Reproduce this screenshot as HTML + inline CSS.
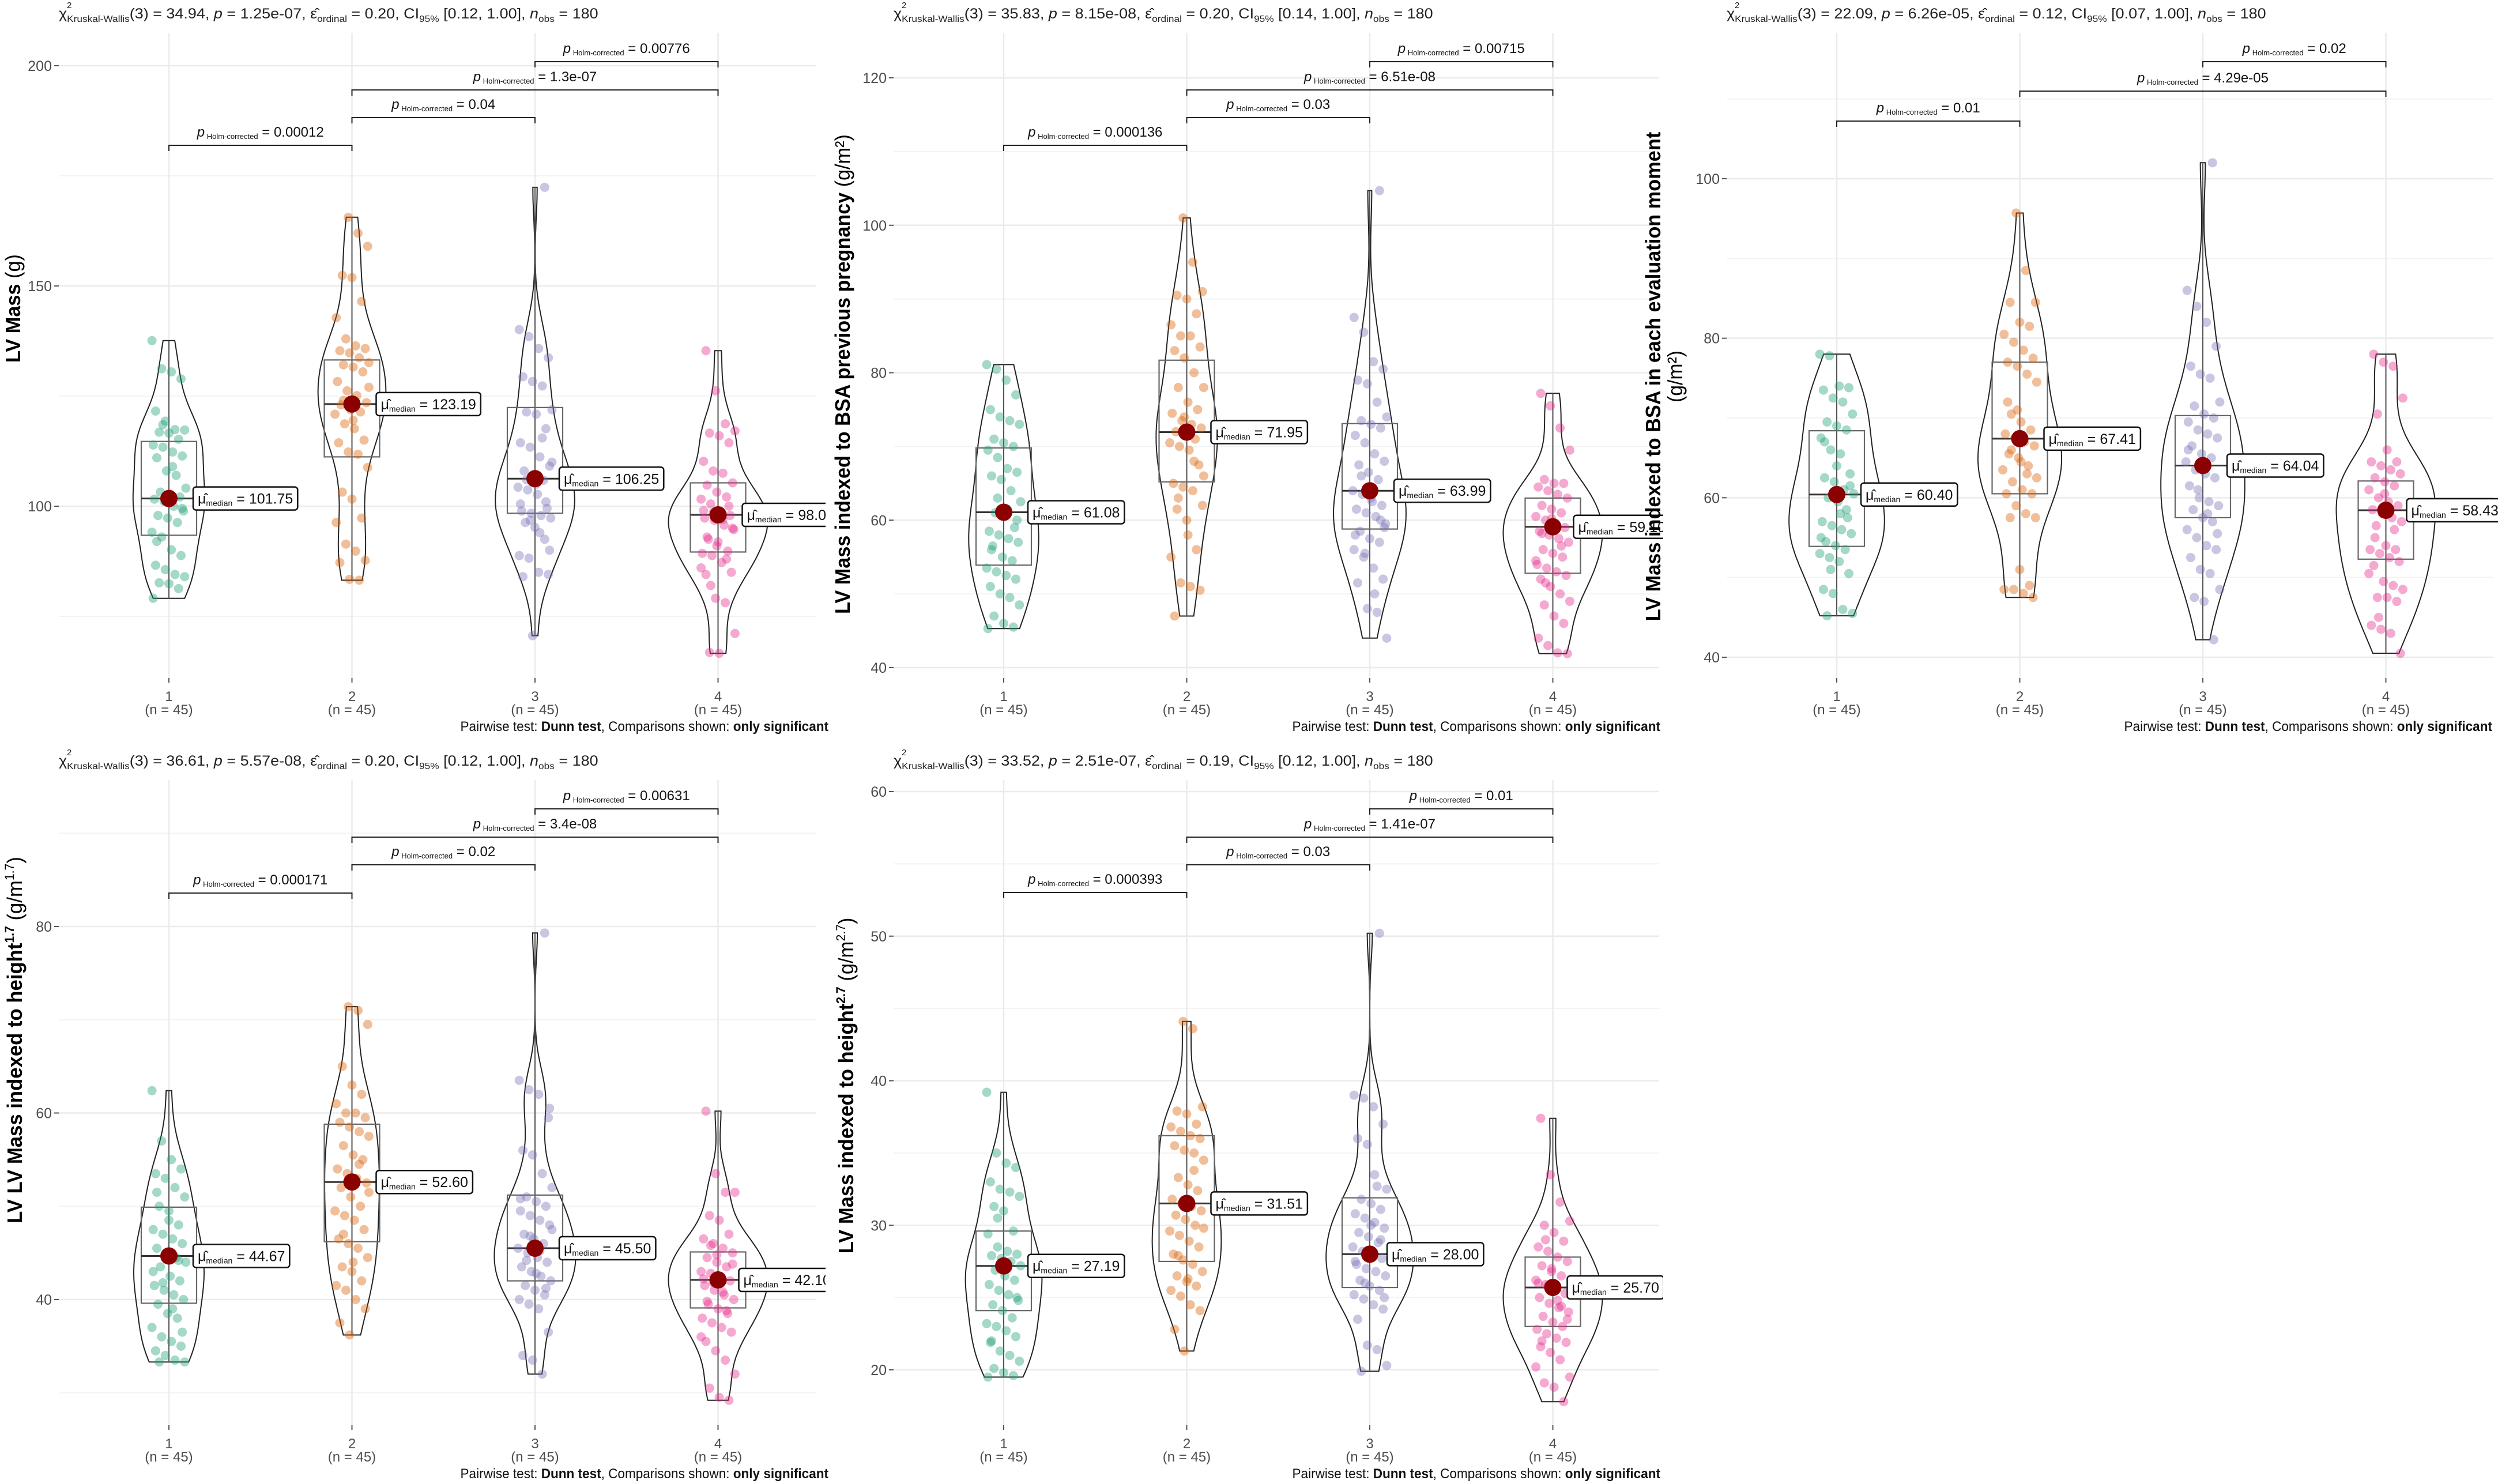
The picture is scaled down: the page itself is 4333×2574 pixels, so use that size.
<!DOCTYPE html>
<html><head><meta charset="utf-8">
<style>
html,body{margin:0;padding:0;background:#fff;}
svg{display:block;font-family:"Liberation Sans",sans-serif;}
</style></head>
<body>
<svg id="fig" width="4333" height="2574" viewBox="0 0 4333 2574" xmlns="http://www.w3.org/2000/svg">
<rect x="0" y="0" width="4333" height="2574" fill="#fff"/>
</svg>
<script>
// ---------- DATA ----------
const groupLabels = ["1","2","3","4"];
const groupN = [45,45,45,45];
const groupColors = ["#1B9E77","#D95F02","#7570B3","#E7298A"];

// Panel 1: LV Mass (g)
const p1Points = [
 [137.6,131.2,130.5,128.9,121.6,119.3,117.4,117.3,116.8,116.6,115.2,113.9,113.4,112.3,111.4,111.0,108.0,107.0,104.1,103.2,102.7,102.1,101.6,101.1,100,98.9,97.9,97.3,96.3,94.1,93.0,90.1,88.8,86.6,85.6,84.5,84.0,82.6,82.4,81.3,79.1,118.5,109,99.5,92],
 [165.6,162.0,159.0,152.4,151.9,146.5,142.8,138.0,136.4,135.8,135.3,134.8,133.7,132.6,132.1,131.6,130.5,128.3,126.2,125.1,123.5,123.0,121.9,121.4,120.9,118.7,117.6,115.0,114.4,112.3,111.8,108.8,103.2,101.6,97.3,96.3,91.4,89.8,87.7,87.2,83.4,83.2,127,124,119.5],
 [172.4,140.1,138.5,135.8,133.7,129.4,128.3,127.3,121.9,121.4,120.9,117.6,114.4,113.4,111.2,109.1,108.0,107.0,105.9,104.3,103.7,102.7,99.5,98.9,98.4,97.9,97.3,96.3,95.2,92.5,88.8,88.2,85.0,84.5,84.0,70.6,115.5,110,106,105,101,100.5,96.8,94,90],
 [135.3,126.2,118.7,117.1,116.6,116.0,114.4,110.2,108.0,107.5,105.3,104.8,103.2,102.1,101.6,100.5,98.9,97.9,97.3,96.8,95.7,94.7,92.5,91.9,89.8,89.3,88.8,87.2,85.0,84.5,79.1,78.1,71.1,66.8,66.6,100,99,98.5,97,95,93,91,88,86,82]
];
const p1Median = [101.75,123.19,106.25,98.03];
const p1Q1 = [93.4,111.2,98.4,89.6];
const p1Q3 = [114.7,133.2,122.4,105.3];
const p1Ticks = [100,150,200];
const p1Minor = [75,125,175];
const p1PLabels = ["0.00776","1.3e-07","0.04","0.00012"];
const p1Stats = ["34.94","1.25e-07","0.20","[0.12, 1.00]","180"];

// Panel 2: LV Mass indexed to BSA previous pregnancy
const p2Points = [
 [81.1,80.5,79,77,75,74,73.5,73,71,70.5,70,69.5,68.5,67,66.5,66,65.5,64,62.5,61,60.5,59,58.5,58,57.5,57,56.5,55,54.5,53.5,53,52.5,52,51,50,49.5,48.5,47,46,45.5,45.3,63,61.5,60,56],
 [101,95,91,90.5,90,88,86.5,85,85,83.5,83,82,80,78,78,76,75,74.5,73.5,73,72.5,72,71.5,71,70.5,70,69.5,67.5,65,64.5,64,62,61.5,60,56,55,51.5,51,50.5,47,74,68,66,63,58],
 [104.7,87.5,85.5,81.5,80.5,79,78.5,76,74,73.5,73,72.5,71.5,70.5,69,68,67.5,66.5,65.5,64,63.5,62.5,62,61.5,61,60.5,59.5,58.5,57.5,57,56,55,53.5,52,51.5,48,47.5,44,66,63,60,58,55.5,50,59],
 [77.2,75.5,72.5,69.5,65.5,65,65,64.5,64,63.5,63,62,61.5,61,60.5,60,59.5,59,58.5,58,57.5,57,56,55.5,55,54,53.5,53,52.5,52,51,50,49,48.5,47,46,44,43,42,41.9,58.2,60.2,56.5,54.5,51.5]
];
const p2Median = [61.08,71.95,63.99,59.10];
const p2Q1 = [53.9,65.2,58.8,52.8];
const p2Q3 = [69.8,81.7,73.1,63.0];
const p2Ticks = [40,60,80,100,120];
const p2Minor = [50,70,90,110];
const p2PLabels = ["0.00715","6.51e-08","0.03","0.000136"];
const p2Stats = ["35.83","8.15e-08","0.20","[0.14, 1.00]","180"];

// Panel 3: LV Mass indexed to BSA in each evaluation moment
const p3Points = [
 [78,77.8,74,73.8,73.5,72.5,72,70.5,69.5,69,68.5,67.5,66,65.5,63,62.5,62,61,60.5,60,59.5,57.5,57,56.5,56,55.5,54.5,54,53.5,53,52.5,52,50.5,48.5,48,46,45.5,45.2,64,58.5,55,51,58,61.5,67],
 [95.7,88.5,84.5,84.5,82,81.5,80.5,79.5,78.5,77.5,77,76.5,75.5,74.5,70.5,69.5,68.5,68,67.5,67,66.5,65.5,65,64,63.5,62,61,60.5,60.5,59,58,57.5,57.5,51,49,48.5,48.5,48,47.5,72,71,63,62.5,66,64.5],
 [102,86,84,82,79,76.5,75.5,75,72,71.5,70.5,70,69.5,68.5,68,67.5,66.5,65.5,65,64.5,63.5,63,62.5,61.5,60,59.5,59,58.5,57.5,57,56,55,54,53.5,52.5,51,50.5,48.5,47.5,47,42.2,66,61,58,55.5],
 [78,77,76.5,72.5,70.5,66,64.5,64.5,64,63.5,63,62.5,62,61.5,61,60,59.5,59,58.5,58,57.5,57,56.5,54,53.5,53.5,53,52.5,52,51.5,49.5,49,48.5,47.5,47.5,47,44,43.5,43,40.5,55,60.5,56,50.5,45]
];
const p3Median = [60.40,67.41,64.04,58.43];
const p3Q1 = [53.9,60.5,57.5,52.3];
const p3Q3 = [68.4,77.0,70.3,62.1];
const p3Ticks = [40,60,80,100];
const p3Minor = [50,70,90,110];
const p3PLabels = ["0.02","4.29e-05","0.01"];
const p3Stats = ["22.09","6.26e-05","0.12","[0.07, 1.00]","180"];

// Panel 4: LV LV Mass indexed to height^1.7
const p4Points = [
 [62.4,57,55,54,53.5,53,52,51,50,49.5,48,47.5,47,46.5,46,45.5,45,44.5,44,43.5,42.5,42,41.5,41,40.5,40,39.5,38.5,38,37,36,35.5,35,34.5,34,33.5,33.3,33.3,48.5,44.2,43,41.8,39,36.5,51.5],
 [71.4,71,69.5,65,63,62,61,60,60,59.5,59,58.5,58,57.5,56.5,55.5,55,54,53.5,53,52.5,52,51,50,49.5,49,48.5,47.5,46.5,46,45.5,44.5,43.5,43,42,41.5,41,40,39,37.5,36.2,54.5,51.5,47,44],
 [79.3,63.5,62.5,62,59.5,56,55.5,53.5,52,51,50.5,50,49.5,49,48.5,48,47,46.5,46,45.5,45,44.5,44,43.5,43,42.5,42,41.5,41,40.5,40,39.5,39,36.5,34,33.5,32,47.5,44.2,42.8,41.2,50.8,46.8,45.2,60.5],
 [60.2,53.5,51.5,51.5,49,48.5,47,46.5,46,45.5,45,44.5,44,43.5,43,42.8,42.5,42,41.5,41,40.5,40,39.5,39,38.5,38,37.5,37,36.5,35.5,34.5,33.5,32,30.5,29.5,29.2,42.2,41.8,40.8,43.8,39.8,44.8,38.8,36,45.8]
];
const p4Median = [44.67,52.60,45.50,42.10];
const p4Q1 = [39.6,46.2,42.0,39.1];
const p4Q3 = [49.9,58.8,51.2,45.1];
const p4Ticks = [40,60,80];
const p4Minor = [30,50,70,90];
const p4PLabels = ["0.00631","3.4e-08","0.02","0.000171"];
const p4Stats = ["36.61","5.57e-08","0.20","[0.12, 1.00]","180"];

// Panel 5: LV Mass indexed to height^2.7
const p5Points = [
 [39.2,35,34.3,34,33,32.5,32.3,32,31.3,31,29.6,29.4,28.5,28.2,28,27.9,27.7,27.5,27.2,26.9,26.5,26.2,25.9,25.5,25.2,24.8,24.5,24.1,23.6,23.2,23,22.7,22.3,21.9,21.3,21,20.6,20.1,19.8,19.6,19.5,30.5,27,25,22],
 [44.1,43.6,38.2,37.9,37.7,37,36.8,36.5,36.2,36,35.5,35.2,35,34.5,33.3,32.8,32.4,31.8,31.5,31.3,31,30.7,30.4,30,29.6,29.3,28.9,28.5,28,27.6,27.3,26.8,26.5,26.1,25.8,25.5,25.1,24.5,24.1,22.8,21.3,33.8,29.8,27.9,26.3],
 [50.2,39,38.8,38.2,37,36,35.6,32.7,32.5,31.8,31.5,31.1,30.8,30.5,30.2,29.8,29.5,29.2,28.8,28.5,28.2,28.0,27.7,27.3,27,26.8,26.5,26.2,25.8,25.5,25.2,24.9,24.5,24.2,23.5,21.7,21.4,20.3,19.9,30,29,27.5,26,33.5,25],
 [37.4,33.5,31.6,30.3,30,29.5,28.9,28.5,28.2,27.8,27.5,27.2,26.8,26.5,26.2,25.9,25.6,25.3,25,24.6,24.3,24,23.7,23.3,23,22.8,22.5,22.2,21.9,21.6,21.2,20.7,19.5,19.1,18.8,17.8,26,25.8,24.8,23.5,22,27,24.4,20.2,29]
];
const p5Median = [27.19,31.51,28.00,25.70];
const p5Q1 = [24.1,27.5,25.7,23.0];
const p5Q3 = [29.6,36.2,31.9,27.8];
const p5Ticks = [20,30,40,50,60];
const p5Minor = [15,25,35,45,55];
const p5PLabels = ["0.01","1.41e-07","0.03","0.000393"];
const p5Stats = ["33.52","2.51e-07","0.19","[0.12, 1.00]","180"];

// ---------- LAYOUT ----------
const SVGNS = "http://www.w3.org/2000/svg";
const fig = document.getElementById("fig");
function mk(tag, attrs, parent){
  const e = document.createElementNS(SVGNS, tag);
  for (const k in attrs) e.setAttribute(k, attrs[k]);
  (parent||fig).appendChild(e);
  return e;
}
const colOff = [0,1448,2893];
const rowOff = [0,1296];
const plotRight = [1415,1430,1432];
const clipRight = [1432,1437,1440];
const footerX = [1437,2880,4323];

const panels = [
 {id:"lv-mass", col:0,row:0, pts:p1Points, med:p1Median, q1:p1Q1, q3:p1Q3, ticks:p1Ticks, minor:p1Minor, pl:p1PLabels, stats:p1Stats,
  cal:[200,114,100,878], pairs:[[2,3],[1,3],[1,2],[0,1]], brY:[107,156,204,252], lblOff:[42,42,42,42],
  title:{bold:"LV Mass ", unit:"(g)", sup:null, x:35, cy:535, len:188}},
 {id:"lv-mass-bsa-prev", col:1,row:0, pts:p2Points, med:p2Median, q1:p2Q1, q3:p2Q3, ticks:p2Ticks, minor:p2Minor, pl:p2PLabels, stats:p2Stats,
  cal:[120,135,40,1158], pairs:[[2,3],[1,3],[1,2],[0,1]], brY:[107,156,204,252], lblOff:[42,42,42,36],
  title:{bold:"LV Mass indexed to BSA previous pregnancy ", unit:"(g/m²)", sup:null, x:26, cy:649, len:832}},
 {id:"lv-mass-bsa-each", col:2,row:0, pts:p3Points, med:p3Median, q1:p3Q1, q3:p3Q3, ticks:p3Ticks, minor:p3Minor, pl:p3PLabels, stats:p3Stats,
  cal:[100,310,40,1140], pairs:[[2,3],[1,3],[0,1]], brY:[107,158,210], lblOff:[42,42,42,36],
  title:{bold:"LV Mass indexed to BSA in each evaluation moment", unit:null, sup:null, x:-13, cy:653, len:849, line2:"(g/m²)", x2:25, len2:90}},
 {id:"lv-mass-height17", col:0,row:1, pts:p4Points, med:p4Median, q1:p4Q1, q3:p4Q3, ticks:p4Ticks, minor:p4Minor, pl:p4PLabels, stats:p4Stats,
  cal:[80,311,40,958], pairs:[[2,3],[1,3],[1,2],[0,1]], brY:[107,156,204,253], lblOff:[42,42,42,36],
  title:{bold:"LV LV Mass indexed to height", unit:"(g/m", sup:"1.7", x:38, cy:508, len:636}},
 {id:"lv-mass-height27", col:1,row:1, pts:p5Points, med:p5Median, q1:p5Q1, q3:p5Q3, ticks:p5Ticks, minor:p5Minor, pl:p5PLabels, stats:p5Stats,
  cal:[60,77,20,1080], pairs:[[2,3],[1,3],[1,2],[0,1]], brY:[107,156,204,252], lblOff:[42,42,30,25],
  title:{bold:"LV Mass indexed to height", unit:"(g/m", sup:"2.7", x:32, cy:587, len:583}}
];

function kde(vals, lo, hi, steps){
  const n = vals.length;
  const mean = vals.reduce((a,b)=>a+b,0)/n;
  const sd = Math.sqrt(vals.reduce((a,b)=>a+(b-mean)*(b-mean),0)/(n-1));
  const s = vals.slice().sort((a,b)=>a-b);
  const q = p => { const h=(n-1)*p, l=Math.floor(h); return s[l]+(h-l)*((s[Math.min(l+1,n-1)])-s[l]); };
  const iqr = q(0.75)-q(0.25);
  const bw = 0.9*Math.min(sd, iqr/1.34)*Math.pow(n,-0.2);
  const out = [];
  for (let i=0;i<=steps;i++){
    const y = lo + (hi-lo)*i/steps;
    let d = 0;
    for (const v of vals){ const z=(y-v)/bw; d += Math.exp(-0.5*z*z); }
    out.push([y, d/(n*bw*Math.sqrt(2*Math.PI))]);
  }
  return out;
}

function fitX(el, target){
  const w = el.getBBox().width;
  return w>0 ? target/w : 1;
}

panels.forEach((P, pi) => {
  const ox = colOff[P.col], oy = rowOff[P.row];
  const g = mk("g", {transform:`translate(${ox},${oy})`});
  
  
  const left = 102, right = plotRight[P.col], top = 57, bottom = 1176;
  const y = v => P.cal[1] + (v - P.cal[0]) * (P.cal[3]-P.cal[1]) / (P.cal[2]-P.cal[0]);
  const x = i => 293 + 317.5*i;

  const clipId = "clip"+pi;
  const cp = mk("clipPath", {id:clipId}, g);
  mk("rect", {x:left, y:top-60, width:clipRight[P.col]-left, height:bottom-top+60}, cp);

  // grid
  const grid = mk("g", {}, g);
  
  
  P.minor.forEach(v => {
    const yy = y(v);
    if (yy < top || yy > bottom) return;
    const l = mk("line", {x1:left, x2:right, y1:yy, y2:yy, stroke:"#f3f3f3", "stroke-width":2}, grid);
    
    
  });
  P.ticks.forEach(v => {
    const yy = y(v);
    const l = mk("line", {x1:left, x2:right, y1:yy, y2:yy, stroke:"#ebebeb", "stroke-width":2.5}, grid);
    
    
    const t = mk("line", {x1:left-8, x2:left, y1:yy, y2:yy, stroke:"#555", "stroke-width":2}, g);
    
    
    const tl = mk("text", {x:left-12, y:yy+9, "text-anchor":"end", "font-size":25, fill:"#4d4d4d"}, g);
    tl.textContent = v;
    
    
  });
  groupLabels.forEach((lab, i) => {
    const l = mk("line", {x1:x(i), x2:x(i), y1:top, y2:bottom, stroke:"#ebebeb", "stroke-width":2.5}, grid);
    
    
    const tk = mk("line", {x1:x(i), x2:x(i), y1:bottom, y2:bottom+8, stroke:"#555", "stroke-width":2}, g);
    
    
    const t1 = mk("text", {x:x(i), y:1216, "text-anchor":"middle", "font-size":24, fill:"#4d4d4d"}, g);
    t1.textContent = lab;
    
    
    const t2 = mk("text", {x:x(i), y:1239, "text-anchor":"middle", "font-size":24, fill:"#4d4d4d"}, g);
    t2.textContent = "(n = " + groupN[i] + ")";
    
    
  });

  const plot = mk("g", {"clip-path":`url(#${clipId})`}, g);
  
  

  const dens = P.pts.map(vals => {
    const lo = Math.min(...vals), hi = Math.max(...vals);
    return kde(vals, lo, hi, 120);
  });
  const maxD = Math.max(...dens.map(d => Math.max(...d.map(p=>p[1]))));
  const halfW = 86;

  P.pts.forEach((vals, i) => {
    const cx = x(i);
    const d = dens[i];
    let path = "";
    d.forEach((p, k) => { path += (k? "L":"M") + (cx + p[1]/maxD*halfW).toFixed(1) + "," + y(p[0]).toFixed(1); });
    for (let k=d.length-1;k>=0;k--){ const p=d[k]; path += "L" + (cx - p[1]/maxD*halfW).toFixed(1) + "," + y(p[0]).toFixed(1); }
    path += "Z";
    const v = mk("path", {d:path, fill:"none", stroke:"#222", "stroke-width":2}, plot);
    
    

    const lo = Math.min(...vals), hi = Math.max(...vals);
    const wh = mk("line", {x1:cx, x2:cx, y1:y(hi), y2:y(lo), stroke:"#555", "stroke-width":2}, plot);
    
    
    const bw = 48;
    const bx = mk("rect", {x:cx-bw, y:y(P.q3[i]), width:2*bw, height:y(P.q1[i])-y(P.q3[i]), fill:"none", stroke:"#666", "stroke-width":2.2}, plot);
    
    
    const ml = mk("line", {x1:cx-bw, x2:cx+bw, y1:y(P.med[i]), y2:y(P.med[i]), stroke:"#333", "stroke-width":3}, plot);
    
    

    vals.forEach((val, k) => {
      const jit = (((k*37 + i*11) % 29) - 14) * 2.1;
      const c = mk("circle", {cx:cx+jit, cy:y(val), r:8, fill:groupColors[i], "fill-opacity":0.4}, plot);
      
      
    });

    const md = mk("circle", {cx:cx, cy:y(P.med[i]), r:15, fill:"#8B0000"}, plot);
    
    

    const lg = mk("g", {}, plot);
    
    
    const my = y(P.med[i]);
    const lx = cx + P.lblOff[i];
    const rect = mk("rect", {x:lx, y:my-20, width:160, height:40, rx:5, fill:"#fff", stroke:"#111", "stroke-width":2.5}, lg);
    const lt = mk("text", {x:lx+8, y:my+9, "font-size":25, fill:"#111"}, lg);
    lt.innerHTML = 'μ̂<tspan font-size="14" dy="4">median</tspan><tspan dy="-4"> = ' + P.med[i].toFixed(2) + '</tspan>';
    rect.setAttribute("width", lt.getBBox().width + 16);
  });

  // brackets
  P.pairs.forEach((pr, k) => {
    const by = P.brY[k];
    const x1 = x(pr[0]), x2 = x(pr[1]);
    const br = mk("path", {d:`M${x1},${by+10}L${x1},${by}L${x2},${by}L${x2},${by+10}`, fill:"none", stroke:"#222", "stroke-width":2}, g);
    
    
    const bt = mk("text", {x:(x1+x2)/2, y:by-15, "text-anchor":"middle", "font-size":24, fill:"#111"}, g);
    bt.innerHTML = '<tspan font-style="italic">p</tspan><tspan font-size="13" dy="4"> Holm-corrected</tspan><tspan dy="-4"> = ' + P.pl[k] + '</tspan>';
    
    
  });

  // stats subtitle
  const st = mk("text", {x:102, y:32, "font-size":25, fill:"#222"}, g);
  st.innerHTML = 'χ<tspan font-size="16" dy="6">Kruskal-Wallis</tspan><tspan dy="-6">(3) = ' + P.stats[0] + ', </tspan><tspan font-style="italic">p</tspan> = ' + P.stats[1] +
    ', ε̂<tspan font-size="16" dy="6">ordinal</tspan><tspan dy="-6"> = ' + P.stats[2] + ', CI</tspan><tspan font-size="16" dy="6">95%</tspan><tspan dy="-6"> ' + P.stats[3] +
    ', </tspan><tspan font-style="italic">n</tspan><tspan font-size="16" dy="6">obs</tspan><tspan dy="-6"> = ' + P.stats[4] + '</tspan>';
  const ss = fitX(st, 936);
  st.setAttribute("transform", `translate(102,0) scale(${ss},1) translate(-102,0)`);
  
  
  const sup1 = mk("text", {x:116, y:14, "font-size":15, fill:"#222"}, g);
  sup1.textContent = "2";
  
  

  // footer caption
  const fx = footerX[P.col] - ox;
  const ft = mk("text", {x:fx, y:1268, "text-anchor":"end", "font-size":24, fill:"#111"}, g);
  ft.innerHTML = 'Pairwise test: <tspan font-weight="bold">Dunn test</tspan>, Comparisons shown: <tspan font-weight="bold">only significant</tspan>';
  const fs = fitX(ft, 639);
  ft.setAttribute("transform", `translate(${fx},0) scale(${fs},1) translate(${-fx},0)`);
  
  

  // y-axis title
  const T = P.title;
  const yt = mk("text", {x:0, y:0, "text-anchor":"middle", "font-size":36, fill:"#000"}, g);
  let html = '<tspan font-weight="bold">' + T.bold + '</tspan>';
  if (T.sup) html += '<tspan font-weight="bold" font-size="22" dy="-14">' + T.sup + '</tspan><tspan dy="14"> ' + T.unit + '</tspan><tspan font-size="22" dy="-14">' + T.sup + '</tspan><tspan dy="14">)</tspan>';
  else if (T.unit) html += '<tspan>' + T.unit + '</tspan>';
  yt.innerHTML = html;
  const ys = fitX(yt, T.len);
  yt.setAttribute("transform", `translate(${T.x},${T.cy}) rotate(-90) scale(${ys},1)`);
  
  
  if (T.line2){
    const y2 = mk("text", {x:0, y:0, "text-anchor":"middle", "font-size":36, fill:"#000"}, g);
    y2.textContent = T.line2;
    const s2 = fitX(y2, T.len2);
    y2.setAttribute("transform", `translate(${T.x2},${T.cy}) rotate(-90) scale(${s2},1)`);
    
    
  }
});
</script>
</body></html>
